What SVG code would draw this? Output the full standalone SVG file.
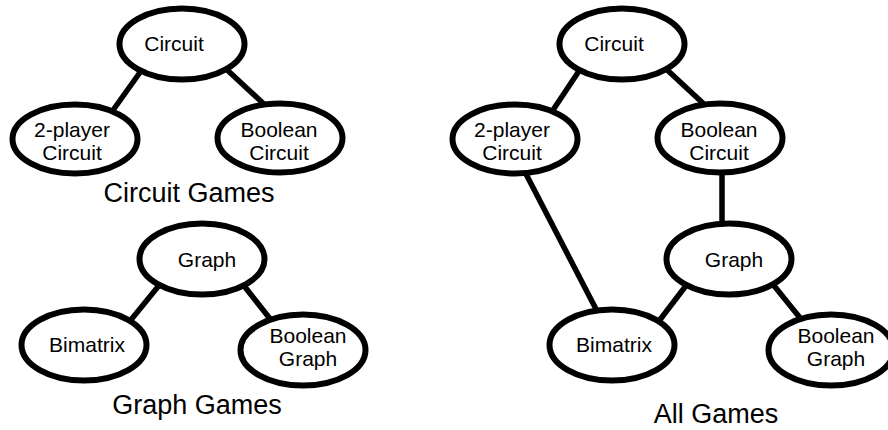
<svg xmlns="http://www.w3.org/2000/svg" width="888" height="430" viewBox="0 0 888 430">
<style>
.n ellipse{fill:#fff;stroke:#000;stroke-width:6}
.n text,.lbl{font-family:"Liberation Sans",Arial,sans-serif;fill:#000;text-anchor:middle}
.n text{font-size:21px}
.lbl{font-size:27px}
#edges line{stroke:#000;stroke-width:5.5}
</style>
<rect width="888" height="430" fill="#fff"/>
<g id="edges">
<line x1="141" y1="71" x2="111" y2="113"/>
<line x1="224" y1="67" x2="266" y2="106"/>
<line x1="161" y1="283" x2="130" y2="321"/>
<line x1="241" y1="282" x2="271" y2="320"/>
<line x1="581" y1="68" x2="551" y2="113"/>
<line x1="664" y1="67" x2="706" y2="106"/>
<line x1="526" y1="174" x2="597" y2="311"/>
<line x1="722" y1="170" x2="722" y2="226"/>
<line x1="688" y1="283" x2="659" y2="321"/>
<line x1="771" y1="282" x2="801" y2="319"/>
</g>
<g id="c1" class="n"><ellipse cx="182" cy="44" rx="62.5" ry="35.5"/><text x="174" y="51">Circuit</text></g>
<g id="p1" class="n"><ellipse cx="75" cy="139" rx="62.5" ry="34.5"/><text x="72" y="137">2-player</text><text x="72" y="160">Circuit</text></g>
<g id="b1" class="n"><ellipse cx="280" cy="138" rx="62.5" ry="34.5"/><text x="279" y="137">Boolean</text><text x="279" y="160">Circuit</text></g>
<text class="lbl" x="189" y="202">Circuit Games</text>
<g id="g1" class="n"><ellipse cx="202" cy="259" rx="62.5" ry="35.5"/><text x="207" y="267">Graph</text></g>
<g id="m1" class="n"><ellipse cx="84" cy="345" rx="62.5" ry="35.5"/><text x="87" y="352">Bimatrix</text></g>
<g id="bg1" class="n"><ellipse cx="303" cy="350" rx="62.5" ry="35.5"/><text x="308" y="343">Boolean</text><text x="308" y="366">Graph</text></g>
<text class="lbl" x="197" y="414">Graph Games</text>
<g id="c2" class="n"><ellipse cx="622" cy="44" rx="62.5" ry="35.5"/><text x="614" y="51">Circuit</text></g>
<g id="p2" class="n"><ellipse cx="515" cy="139" rx="62.5" ry="34.5"/><text x="512" y="137">2-player</text><text x="512" y="160">Circuit</text></g>
<g id="b2" class="n"><ellipse cx="720" cy="138" rx="62.5" ry="34.5"/><text x="719" y="137">Boolean</text><text x="719" y="160">Circuit</text></g>
<g id="g2" class="n"><ellipse cx="729" cy="259" rx="62.5" ry="35.5"/><text x="734" y="267">Graph</text></g>
<g id="m2" class="n"><ellipse cx="612" cy="345" rx="62.5" ry="35.5"/><text x="614" y="352">Bimatrix</text></g>
<g id="bg2" class="n"><ellipse cx="831" cy="350" rx="62.5" ry="35.5"/><text x="836" y="343">Boolean</text><text x="836" y="366">Graph</text></g>
<text class="lbl" x="716" y="423">All Games</text>
</svg>
